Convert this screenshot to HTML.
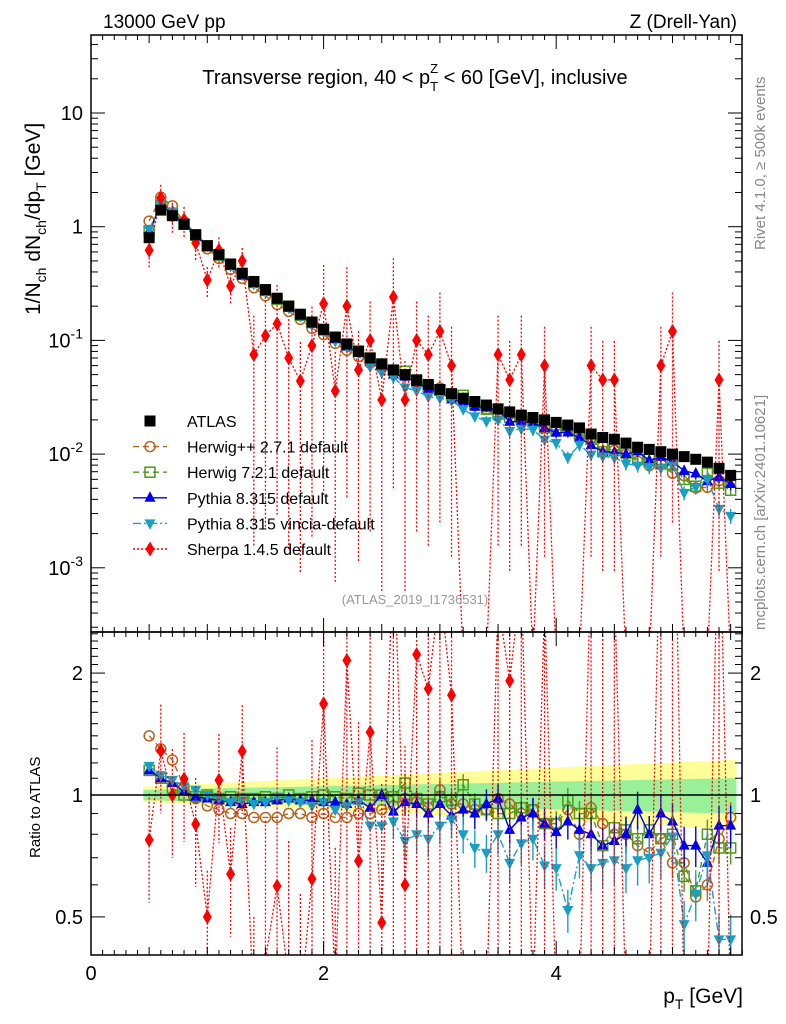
<!DOCTYPE html>
<html><head><meta charset="utf-8"><style>
html,body{margin:0;padding:0;background:#fff;overflow:hidden;width:786px;height:1024px}
svg{display:block;font-family:"Liberation Sans",sans-serif}
</style></head><body>
<svg id="c" width="786" height="1024" viewBox="0 0 786 1024">
<defs>
<clipPath id="cm"><rect x="91" y="35" width="651" height="597"/></clipPath>
<clipPath id="cr"><rect x="91" y="632" width="651" height="323"/></clipPath>
</defs>
<g id="bands" clip-path="url(#cr)"></g>
<g id="mainG" clip-path="url(#cm)"></g>
<g id="ratG" clip-path="url(#cr)"></g>
<g id="axes"></g>
<text x="103" y="28" font-size="19">13000 GeV pp</text>
<text x="737" y="28" font-size="19" text-anchor="end">Z (Drell-Yan)</text>
<text x="415" y="84" font-size="20" text-anchor="middle">Transverse region, 40 &lt; p<tspan font-size="13" dy="7">T</tspan><tspan font-size="13" dx="-8" dy="-18">Z</tspan><tspan dy="11"> &lt; 60 [GeV], inclusive</tspan></text>
<text x="415" y="604" font-size="13" fill="#999" text-anchor="middle">(ATLAS_2019_I1736531)</text>
<text transform="translate(765,250) rotate(-90)" font-size="15" fill="#888">Rivet 4.1.0, ≥ 500k events</text>
<text transform="translate(765,630) rotate(-90)" font-size="15" fill="#888">mcplots.cern.ch [arXiv:2401.10621]</text>
<text transform="translate(40,315) rotate(-90)" font-size="21">1/N<tspan font-size="14" dy="6">ch</tspan><tspan dy="-6"> dN</tspan><tspan font-size="14" dy="6">ch</tspan><tspan dy="-6">/dp</tspan><tspan font-size="14" dy="6">T</tspan><tspan dy="-6"> [GeV]</tspan></text>
<text transform="translate(40,858) rotate(-90)" font-size="15">Ratio to ATLAS</text>
<text x="743" y="1003" font-size="21" text-anchor="end">p<tspan font-size="14" dy="6">T</tspan><tspan dy="-6"> [GeV]</tspan></text>
<g id="legend"></g>
</svg>
<script>
const xs=[0.5,0.6,0.7,0.8,0.9,1.0,1.1,1.2,1.3,1.4,1.5,1.6,1.7,1.8,1.9,2.0,2.1,2.2,2.3,2.4,2.5,2.6,2.7,2.8,2.9,3.0,3.1,3.2,3.3,3.4,3.5,3.6,3.7,3.8,3.9,4.0,4.1,4.2,4.3,4.4,4.5,4.6,4.7,4.8,4.9,5.0,5.1,5.2,5.3,5.4,5.5];
const atlas=[0.8,1.4,1.25,1.05,0.85,0.68,0.57,0.47,0.39,0.33,0.28,0.235,0.2,0.17,0.145,0.125,0.107,0.093,0.08,0.07,0.062,0.055,0.05,0.045,0.041,0.037,0.034,0.031,0.029,0.027,0.025,0.0235,0.022,0.021,0.02,0.019,0.018,0.017,0.015,0.014,0.0135,0.0125,0.0115,0.011,0.0105,0.01,0.0095,0.009,0.0085,0.0075,0.0065];
const herwigpp=[1.4,1.3,1.22,1.05,0.98,0.94,0.92,0.9,0.9,0.88,0.88,0.88,0.9,0.9,0.88,0.9,0.88,0.88,0.9,0.9,0.92,0.94,0.98,0.96,0.93,1.03,0.95,0.95,0.92,0.92,0.98,0.95,0.9,0.92,0.85,0.85,0.92,0.8,0.93,0.85,0.8,0.8,0.75,0.72,0.78,0.68,0.68,0.56,0.6,0.78,0.88];
const herwig7=[1.15,1.1,1.04,1.0,0.99,1.0,0.98,0.99,0.98,0.98,0.99,0.98,1.0,0.98,0.99,1.0,0.99,0.98,1.01,1.0,1.0,0.99,1.07,0.98,0.95,0.99,0.97,1.06,0.95,0.92,0.9,0.9,0.93,0.92,0.85,0.85,0.97,0.9,0.9,0.75,0.83,0.82,0.78,0.82,0.78,0.8,0.63,0.58,0.8,0.74,0.74];
const pythia=[1.15,1.1,1.07,1.02,0.99,0.98,0.97,0.96,0.95,0.96,0.96,0.97,0.98,0.97,0.97,0.96,0.96,0.95,0.97,0.93,1.0,0.91,0.96,0.95,0.9,0.95,0.89,0.92,0.9,0.95,0.98,0.82,0.88,0.9,0.85,0.81,0.86,0.82,0.8,0.75,0.77,0.8,0.92,0.8,0.9,0.86,0.75,0.75,0.68,0.84,0.84];
const vincia=[1.18,1.12,1.09,1.05,1.03,1.0,0.98,0.96,0.97,0.95,0.96,0.99,0.97,0.96,0.94,0.96,0.92,0.94,0.96,0.84,0.84,0.86,0.77,0.8,0.78,0.84,0.87,0.8,0.74,0.72,0.8,0.68,0.76,0.78,0.67,0.66,0.52,0.71,0.66,0.68,0.69,0.66,0.69,0.7,0.72,0.79,0.48,0.57,0.71,0.44,0.44];
const sherpa=[0.62,1.8,1.25,1.15,0.72,0.34,0.62,0.3,0.5,0.075,0.11,0.14,0.07,0.044,0.09,0.21,0.036,0.2,0.055,0.1,0.03,0.24,0.03,0.1,0.075,0.12,0.06,0,0,0,0.075,0.045,0.075,0,0.06,0,0,0,0.06,0.045,0.045,0,0,0,0.06,0.12,0,0,0,0.045,0];
const yTicksMain=[10,1,0.1,0.01,0.001];
const yTickLabelsMain=["10","1","10<sup>-1</sup>","10<sup>-2</sup>","10<sup>-3</sup>"];
const xTicks=[0,2,4];
const rTicks=[2,1,0.5];

const NS="http://www.w3.org/2000/svg";
const X=v=>91+v*116.3;
const Ym=v=>113-(Math.log10(Math.max(v,1.5e-4))-1)*113.7;
const Yr=r=>795-Math.log10(Math.max(r,0.3))*405;
function mk(tag,attrs,parent){const e=document.createElementNS(NS,tag);for(const k in attrs)e.setAttribute(k,attrs[k]);parent.appendChild(e);return e;}
const mainG=document.getElementById('mainG'),ratG=document.getElementById('ratG'),axes=document.getElementById('axes'),bandsG=document.getElementById('bands'),leg=document.getElementById('legend');

let yu=[],yl=[],gu=[],gl=[];
xs.forEach((x,i)=>{const f=i/(xs.length-1);const ye=0.05+0.17*f,ge=0.03+0.07*f;
 yu.push([X(x-0.05),Yr(1+ye)],[X(x+0.05),Yr(1+ye)]);yl.push([X(x-0.05),Yr(1-ye*0.8)],[X(x+0.05),Yr(1-ye*0.8)]);
 gu.push([X(x-0.05),Yr(1+ge)],[X(x+0.05),Yr(1+ge)]);gl.push([X(x-0.05),Yr(1-ge)],[X(x+0.05),Yr(1-ge)]);});
const yb=mk('polygon',{points:yu.concat(yl.reverse()).map(p=>p.join(',')).join(' '),fill:'#ffff99'},bandsG);


const gb=mk('polygon',{points:gu.concat(gl.reverse()).map(p=>p.join(',')).join(' '),fill:'#99f099'},bandsG);



function marker(type,cx,cy,col,parent){
 let e;
 if(type==='sq')e=mk('rect',{x:cx-5.5,y:cy-5.5,width:11,height:11,fill:'#000'},parent);
 else if(type==='circ')e=mk('circle',{cx:cx,cy:cy,r:5,fill:'none',stroke:col,'stroke-width':1.5},parent);
 else if(type==='osq')e=mk('rect',{x:cx-5,y:cy-5,width:10,height:10,fill:'none',stroke:col,'stroke-width':1.5},parent);
 else if(type==='tu')e=mk('polygon',{points:`${cx},${cy-6.5} ${cx-5.5},${cy+4} ${cx+5.5},${cy+4}`,fill:col},parent);
 else if(type==='td')e=mk('polygon',{points:`${cx},${cy+6.5} ${cx-5.5},${cy-4} ${cx+5.5},${cy-4}`,fill:col},parent);
 else e=mk('polygon',{points:`${cx},${cy-7.5} ${cx-4.5},${cy} ${cx},${cy+7.5} ${cx+4.5},${cy}`,fill:col},parent);
 return e;
}
const series=[
 {name:'herwigpp',ratio:herwigpp,col:'#b5651d',type:'circ',dash:'6,4',err:0.03},
 {name:'herwig7',ratio:herwig7,col:'#4c9a1a',type:'osq',dash:'6,4',err:0.03},
 {name:'pythia',ratio:pythia,col:'#0000ee',type:'tu',dash:'',err:0.04},
 {name:'vincia',ratio:vincia,col:'#1a9fc4',type:'td',dash:'8,3,2,3',err:0.05},
];
series.forEach(s=>{
 const mv=s.ratio.map((r,i)=>r*atlas[i]);
 [[mainG,mv,Ym],[ratG,s.ratio,Yr]].forEach(([g,vals,Y])=>{
  const pl=mk('polyline',{points:xs.map((x,i)=>X(x)+','+Y(vals[i])).join(' '),fill:'none',stroke:s.col,'stroke-width':1.4,'stroke-dasharray':s.dash},g);
  
  
  xs.forEach((x,i)=>{const e=s.err*(1+i/25);
   if(i>20)mk('line',{x1:X(x),x2:X(x),y1:Y(vals[i]*(1+e)),y2:Y(vals[i]*(1-e)),stroke:s.col,'stroke-width':1.4},g);
   const m=marker(s.type,X(x),Y(vals[i]),s.col,g);
   
   
  });
 });
});
const sr=sherpa.map((v,i)=>v/atlas[i]);
[[mainG,sherpa,Ym],[ratG,sr,Yr]].forEach(([g,vals,Y])=>{
 const pl=mk('polyline',{points:xs.map((x,i)=>X(x)+','+Y(vals[i])).join(' '),fill:'none',stroke:'#ff0000','stroke-width':1.3,'stroke-dasharray':'2,2'},g);
 
 
 xs.forEach((x,i)=>{
  const v=vals[i];if(v<=0)return;
  const lo=i>8?v*0.02:v*0.7,hi=i>8?v*2.2:v*1.3;
  mk('line',{x1:X(x),x2:X(x),y1:Y(hi),y2:Y(lo),stroke:'#ff0000','stroke-width':1.3,'stroke-dasharray':'2,2'},g);
  const m=marker('dia',X(x),Y(v),'#ff0000',g);
  
  
 });
});
xs.forEach((x,i)=>{
 const m=marker('sq',X(x),Ym(atlas[i]),'#000',mainG);
 
 
});
mk('line',{x1:91,x2:742,y1:Yr(1),y2:Yr(1),stroke:'#000','stroke-width':1.5},ratG);

mk('rect',{x:91,y:35,width:651,height:597,fill:'none',stroke:'#000','stroke-width':1.5},axes);
mk('rect',{x:91,y:632,width:651,height:323,fill:'none',stroke:'#000','stroke-width':1.5},axes);
for(let r=0;r<=56;r++){
 const v=r/10;const len=(r%20===0)?14:(r%5===0?8:5);
 [[632,-1],[35,1],[955,-1],[632,1]].forEach(([y,d])=>mk('line',{x1:X(v),x2:X(v),y1:y,y2:y+d*len,stroke:'#000'},axes));}
xTicks.forEach(v=>{const t=mk('text',{x:X(v),y:980,'font-size':20,'text-anchor':'middle'},axes);t.textContent=v;
 
 });
for(let e=-4;e<=1;e++)for(let m=1;m<10;m++){const v=m*Math.pow(10,e);const y=113-(Math.log10(v)-1)*113.7;if(y<35||y>632)continue;const len=m===1?14:7;
 mk('line',{x1:91,x2:91+len,y1:y,y2:y,stroke:'#000'},axes);mk('line',{x1:742,x2:742-len,y1:y,y2:y,stroke:'#000'},axes);}
yTicksMain.forEach((v,i)=>{const t=mk('text',{x:83,y:Ym(v)+7,'font-size':20,'text-anchor':'end'},axes);
 const lab=yTickLabelsMain[i];
 if(lab.includes('<sup>')){const [b,s]=lab.split('<sup>');t.textContent=b;const ts=mk('tspan',{'font-size':14,dy:-9},t);ts.textContent=s.replace('</sup>','');}
 else t.textContent=lab;
 
 });
[0.4,0.5,0.6,0.7,0.8,0.9,1,1.1,1.2,1.3,1.4,1.5,1.6,1.7,1.8,1.9,2,2.1,2.2,2.3,2.4,2.5].forEach(v=>{const y=795-Math.log10(v)*405;if(y<632||y>955)return;const len=(v===0.5||v===1||v===2)?14:7;
 mk('line',{x1:91,x2:91+len,y1:y,y2:y,stroke:'#000'},axes);mk('line',{x1:742,x2:742-len,y1:y,y2:y,stroke:'#000'},axes);});
rTicks.forEach(v=>{[[83,'end'],[750,'start']].forEach(([x,a])=>{const t=mk('text',{x:x,y:Yr(v)+7,'font-size':20,'text-anchor':a},axes);t.textContent=v;
 
 });});
const legItems=[['ATLAS','sq','#000',''],['Herwig++ 2.7.1 default','circ','#b5651d','6,4'],['Herwig 7.2.1 default','osq','#4c9a1a','6,4'],['Pythia 8.315 default','tu','#0000ee',''],['Pythia 8.315 vincia-default','td','#1a9fc4','8,3,2,3'],['Sherpa 1.4.5 default','dia','#ff0000','2,2']];
legItems.forEach((it,i)=>{const y=421+i*25.6;
 const g=mk('g',{},leg);
 
 
 if(i>0)mk('line',{x1:133,x2:167,y1:y,y2:y,stroke:it[2],'stroke-width':1.4,'stroke-dasharray':it[3]},g);
 marker(it[1],150,y,it[2],g);
 const t=mk('text',{x:187,y:y+6,'font-size':16},g);t.textContent=it[0];});
</script>
</body></html>
